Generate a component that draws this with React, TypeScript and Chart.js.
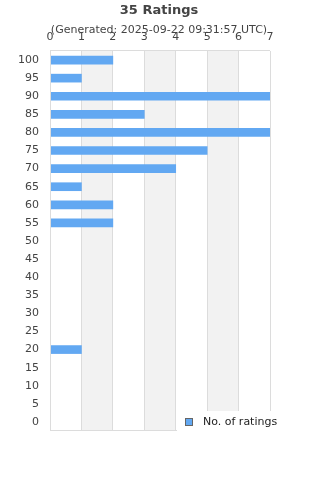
import React, { useEffect, useRef } from "react";
import { Chart, registerables } from "chart.js";

Chart.register(...registerables);

const titleText = "35 Ratings";
const subtitleText = "(Generated: 2025-09-22 09:31:57 UTC)";
const seriesLabel = "No. of ratings";
const categories = ["100", "95", "90", "85", "80", "75", "70", "65", "60", "55", "50", "45", "40", "35", "30", "25", "20", "15", "10", "5", "0"];
const ratingCounts = [2, 1, 7, 3, 7, 5, 4, 1, 2, 2, 0, 0, 0, 0, 0, 0, 1, 0, 0, 0, 0];
const xMin = 0;
const xMax = 7;
const shadedBands = [[1, 2], [3, 4], [5, 6]];

const FONT = "'DejaVu Sans', Verdana, sans-serif";
const BAR = "#62a8f2";
const GRID = "#dcdcdc";
const TEXT = "#444444";
const FRAME_TOP = 50;
const FRAME_BOTTOM = 430;

const decorPlugin = {
  id: "decor",
  beforeDraw(chart: any) {
    const { ctx, scales } = chart;
    ctx.save();
    ctx.fillStyle = "#ffffff";
    ctx.fillRect(0, 0, chart.width, chart.height);
    ctx.fillStyle = "#f2f2f2";
    for (const [a, b] of shadedBands) {
      const x1 = scales.x.getPixelForValue(a);
      const x2 = scales.x.getPixelForValue(b);
      ctx.fillRect(x1, FRAME_TOP, x2 - x1, FRAME_BOTTOM - FRAME_TOP);
    }
    ctx.restore();
  },
  afterDraw(chart: any) {
    const { ctx, chartArea } = chart;
    ctx.save();
    // frame
    ctx.strokeStyle = GRID;
    ctx.lineWidth = 1;
    ctx.beginPath();
    ctx.moveTo(chartArea.left, FRAME_TOP + 0.5);
    ctx.lineTo(chartArea.right, FRAME_TOP + 0.5);
    ctx.moveTo(chartArea.left + 0.5, FRAME_TOP);
    ctx.lineTo(chartArea.left + 0.5, FRAME_BOTTOM);
    ctx.moveTo(chartArea.left, FRAME_BOTTOM + 0.5);
    ctx.lineTo(chartArea.right, FRAME_BOTTOM + 0.5);
    ctx.stroke();

    // legend (overlays bottom right)
    ctx.fillStyle = "#ffffff";
    ctx.fillRect(177, 411, chart.width - 177, 32);
    ctx.fillStyle = BAR;
    ctx.fillRect(185.5, 418.5, 7, 7);
    ctx.strokeStyle = "#666666";
    ctx.strokeRect(185.5, 418.5, 7, 7);
    ctx.fillStyle = "#222222";
    ctx.font = `11px ${FONT}`;
    ctx.textAlign = "left";
    ctx.textBaseline = "middle";
    ctx.fillText(seriesLabel, 203, 422.5);

    // title + subtitle
    ctx.textAlign = "center";
    ctx.fillStyle = TEXT;
    ctx.font = `bold 13px ${FONT}`;
    ctx.fillText(titleText, 159, 11);
    ctx.font = `11px ${FONT}`;
    ctx.fillText(subtitleText, 159, 30);
    ctx.restore();
  },
};

export default function App() {
  const ref = useRef<HTMLCanvasElement | null>(null);

  useEffect(() => {
    if (!ref.current) return;
    const chart = new Chart(ref.current, {
      type: "bar",
      data: {
        labels: categories,
        datasets: [
          {
            label: seriesLabel,
            data: ratingCounts,
            backgroundColor: BAR,
            borderWidth: 0,
            barThickness: 8,
          },
        ],
      },
      options: {
        indexAxis: "y",
        animation: false,
        responsive: false,
        maintainAspectRatio: false,
        layout: { padding: { left: 0, top: 0, right: 50, bottom: 49 } },
        scales: {
          x: {
            position: "top",
            min: xMin,
            max: xMax,
            ticks: {
              stepSize: 1,
              color: TEXT,
              font: { family: FONT, size: 11 },
              padding: 7,
              maxRotation: 0,
            },
            grid: { color: GRID, drawTicks: false },
            border: { display: false },
            afterFit: (s: any) => {
              s.height = 51;
            },
          },
          y: {
            type: "category",
            ticks: {
              color: TEXT,
              font: { family: FONT, size: 11 },
              padding: 11,
              autoSkip: false,
            },
            grid: { display: false, drawTicks: false },
            border: { display: false },
            afterFit: (s: any) => {
              s.width = 50;
            },
          },
        },
        plugins: {
          legend: { display: false },
          title: { display: false },
          tooltip: { enabled: false },
        },
      },
      plugins: [decorPlugin],
    } as any);
    return () => chart.destroy();
  }, []);

  return (
    <div style={{ position: "absolute", left: 0, top: 0, width: 320, height: 480 }}>
      <canvas ref={ref} width={320} height={480} style={{ width: 320, height: 480 }} />
    </div>
  );
}
